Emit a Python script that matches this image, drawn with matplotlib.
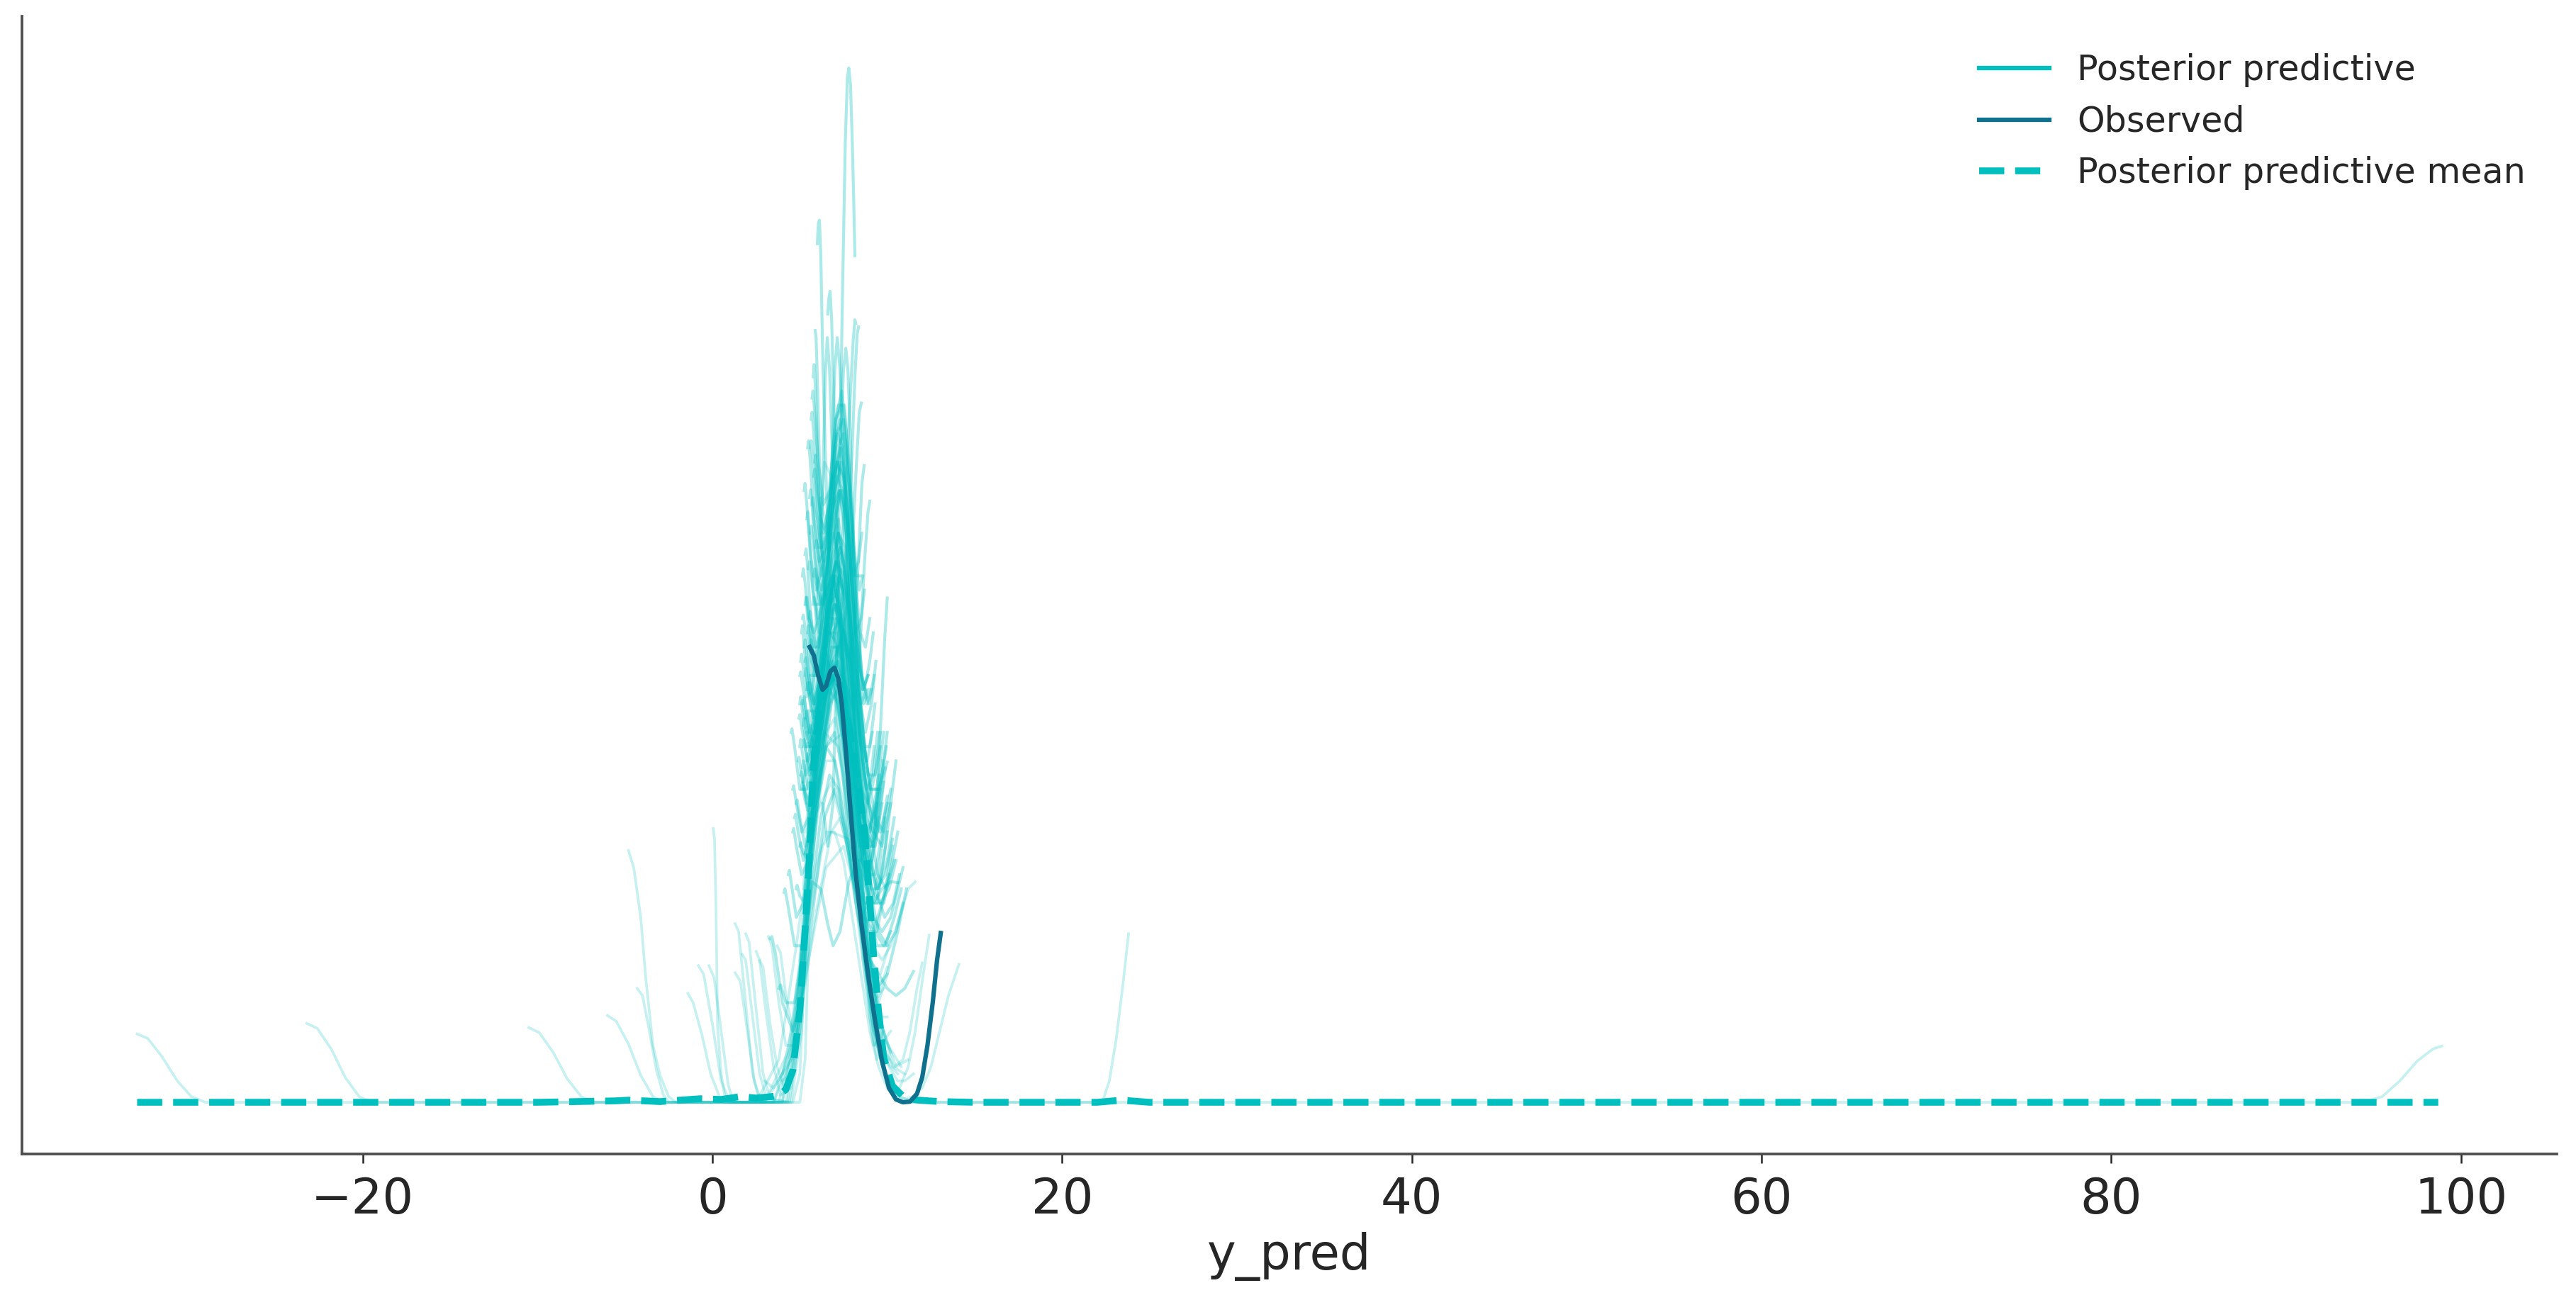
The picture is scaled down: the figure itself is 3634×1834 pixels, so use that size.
import matplotlib
import matplotlib.pyplot as plt
from matplotlib.lines import Line2D

matplotlib.use("Agg")

PP_COLOR = "#00c0bf"
OBS_COLOR = "#0f718e"

# observed density
obs_x = [5.56, 5.8, 6.05, 6.3, 6.5, 6.75, 6.98, 7.2, 7.4, 7.65, 7.9, 8.2, 8.5, 8.9,
         9.3, 9.7, 10.1, 10.5, 10.9, 11.3, 11.7, 12.0, 12.3, 12.6, 12.85, 13.06]
obs_y = [0.640, 0.628, 0.600, 0.580, 0.585, 0.606, 0.611, 0.596, 0.560, 0.490, 0.410,
         0.320, 0.255, 0.180, 0.115, 0.058, 0.020, 0.004, 0.0, 0.001, 0.012, 0.035,
         0.080, 0.140, 0.200, 0.238]

# posterior predictive mean density
mean_x = [-32.9, -20.0, -10.0, -5.6, -4.8, -3.0, -0.7, 0.5, 1.6, 2.5, 3.4, 3.8, 4.2, 4.6,
          5.0, 5.3, 5.56, 5.76, 5.9, 6.2, 6.6, 7.0, 7.4, 7.8, 8.2, 8.7, 8.96, 9.2, 9.5,
          9.8, 10.3, 11.0, 11.8, 13.0, 15.0, 22.0, 23.4, 25.0, 40.0, 60.0, 80.0, 98.7]
mean_y = [0.0, 0.0, 0.0, 0.002, 0.003, 0.001, 0.005, 0.004, 0.008, 0.006, 0.008, 0.010,
          0.018, 0.045, 0.129, 0.241, 0.352, 0.464, 0.509, 0.560, 0.590, 0.600, 0.580,
          0.530, 0.470, 0.380, 0.296, 0.213, 0.129, 0.062, 0.023, 0.006, 0.003, 0.001,
          0.0, 0.0, 0.003, 0.0, 0.0, 0.0, 0.0, 0.0]

# posterior predictive draws with far-left minimum values
pp_far_left = [
    ([-32.9, -32.3, -31.5, -30.6, -29.8, -29.0, 3.0, 4.5, 5.5, 6.5, 7.5, 8.5, 9.5, 10.5, 11.2],
     [0.096, 0.090, 0.065, 0.030, 0.008, 0.0, 0.0, 0.06, 0.20, 0.33, 0.36, 0.27, 0.12, 0.05, 0.06]),
    ([-23.2, -22.6, -21.8, -21.0, -20.2, -19.5, 3.5, 4.8, 5.8, 6.8, 7.8, 8.8, 9.8, 10.8],
     [0.111, 0.104, 0.075, 0.035, 0.008, 0.0, 0.0, 0.08, 0.25, 0.38, 0.37, 0.24, 0.09, 0.05]),
    ([-10.5, -9.9, -9.1, -8.3, -7.5, -6.8, 3.0, 4.3, 5.3, 6.3, 7.3, 8.3, 9.3, 10.3, 11.0],
     [0.105, 0.098, 0.070, 0.033, 0.008, 0.0, 0.0, 0.07, 0.22, 0.36, 0.40, 0.30, 0.15, 0.05, 0.04]),
    ([-6.0, -5.5, -4.8, -4.1, -3.4, -2.8, 2.5, 3.8, 4.8, 5.8, 6.8, 7.8, 8.8, 9.8, 10.6],
     [0.122, 0.114, 0.082, 0.038, 0.008, 0.0, 0.0, 0.06, 0.22, 0.40, 0.45, 0.35, 0.18, 0.06, 0.04]),
    ([-4.8, -4.5, -4.1, -3.8, -3.4, -3.0, -2.5, -2.1, 4.6, 5.0, 5.4, 5.8, 6.2, 6.6, 7.0, 7.4, 7.8,
      8.2, 8.6, 9.0, 9.4, 9.6],
     [0.354, 0.330, 0.260, 0.172, 0.080, 0.038, 0.008, 0.0, 0.0, 0.04, 0.25, 0.62, 0.85, 0.80,
      0.72, 0.75, 0.70, 0.50, 0.28, 0.12, 0.06, 0.07]),
    ([-4.3, -4.0, -3.6, -3.2, -2.8, -2.5, 3.5, 4.5, 5.5, 6.5, 7.5, 8.5, 9.5, 10.2],
     [0.160, 0.150, 0.100, 0.045, 0.010, 0.0, 0.0, 0.08, 0.30, 0.50, 0.52, 0.32, 0.12, 0.07]),
    ([0.05, 0.12, 0.2, 0.3, 0.5, 0.7, 0.9, 5.0, 5.3, 5.6, 6.0, 6.4, 6.8, 7.2, 7.6, 8.0, 8.4, 8.8, 9.1],
     [0.385, 0.370, 0.280, 0.105, 0.040, 0.010, 0.0, 0.0, 0.06, 0.30, 0.70, 0.90, 0.88, 0.80,
      0.74, 0.62, 0.40, 0.22, 0.18]),
    ([-1.4, -1.1, -0.6, -0.1, 0.4, 0.7, 3.8, 4.6, 5.4, 6.2, 7.0, 7.8, 8.6, 9.4, 9.9],
     [0.153, 0.140, 0.095, 0.040, 0.008, 0.0, 0.0, 0.08, 0.28, 0.50, 0.58, 0.46, 0.24, 0.08, 0.06]),
    ([-0.8, -0.5, 0.0, 0.5, 1.0, 4.0, 4.8, 5.6, 6.4, 7.2, 8.0, 8.8, 9.6, 10.1],
     [0.192, 0.180, 0.110, 0.030, 0.0, 0.0, 0.10, 0.34, 0.56, 0.62, 0.48, 0.24, 0.08, 0.06]),
    ([-0.2, 0.1, 0.5, 0.9, 1.2, 4.2, 5.0, 5.7, 6.4, 7.1, 7.8, 8.5, 9.2, 9.7],
     [0.192, 0.175, 0.100, 0.025, 0.0, 0.0, 0.12, 0.40, 0.66, 0.70, 0.52, 0.28, 0.10, 0.08]),
    ([1.3, 1.5, 1.9, 2.3, 2.7, 4.4, 5.0, 5.6, 6.2, 6.8, 7.4, 8.0, 8.6, 9.2, 9.6],
     [0.251, 0.240, 0.140, 0.040, 0.0, 0.0, 0.10, 0.36, 0.62, 0.72, 0.64, 0.42, 0.20, 0.08, 0.09]),
    ([1.3, 1.6, 2.0, 2.4, 2.8, 4.0, 4.8, 5.6, 6.4, 7.2, 8.0, 8.8, 9.6, 10.2],
     [0.182, 0.170, 0.100, 0.030, 0.0, 0.0, 0.12, 0.36, 0.52, 0.50, 0.36, 0.18, 0.08, 0.10]),
    ([1.7, 1.9, 2.3, 2.7, 3.1, 4.5, 5.1, 5.7, 6.3, 6.9, 7.5, 8.1, 8.7, 9.3, 9.8],
     [0.208, 0.200, 0.120, 0.040, 0.005, 0.0, 0.10, 0.40, 0.70, 0.82, 0.70, 0.44, 0.20, 0.08, 0.10]),
    ([1.9, 2.1, 2.5, 2.9, 3.3, 4.3, 5.0, 5.7, 6.4, 7.1, 7.8, 8.5, 9.2, 9.8],
     [0.237, 0.225, 0.130, 0.040, 0.005, 0.0, 0.14, 0.44, 0.64, 0.60, 0.44, 0.26, 0.14, 0.16]),
    ([2.5, 2.7, 3.1, 3.5, 3.9, 4.5, 5.2, 5.9, 6.6, 7.3, 8.0, 8.7, 9.4, 10.0],
     [0.212, 0.200, 0.120, 0.050, 0.010, 0.02, 0.18, 0.46, 0.62, 0.56, 0.40, 0.24, 0.12, 0.12]),
    ([2.7, 2.9, 3.3, 3.7, 4.1, 4.7, 5.3, 5.9, 6.5, 7.1, 7.7, 8.3, 8.9, 9.5, 10.0],
     [0.199, 0.190, 0.110, 0.050, 0.020, 0.04, 0.20, 0.50, 0.72, 0.76, 0.62, 0.40, 0.22, 0.14, 0.18]),
    ([3.2, 3.4, 3.8, 4.2, 4.8, 5.4, 6.0, 6.6, 7.2, 7.8, 8.4, 9.0, 9.6, 10.1],
     [0.233, 0.220, 0.140, 0.080, 0.08, 0.24, 0.48, 0.62, 0.58, 0.44, 0.30, 0.20, 0.18, 0.22]),
    ([3.7, 3.9, 4.2, 4.6, 5.1, 5.6, 6.1, 6.6, 7.1, 7.6, 8.1, 8.6, 9.1, 9.6, 10.0],
     [0.220, 0.210, 0.150, 0.100, 0.14, 0.30, 0.52, 0.66, 0.66, 0.54, 0.38, 0.24, 0.16, 0.16, 0.19]),
]

# draws concentrated in the main bundle
pp_bundle = [
    ([6.3, 6.6, 6.9, 7.1, 7.3, 7.45, 7.6, 7.72, 7.8, 7.9, 8.0, 8.08, 8.15],
     [0.42, 0.36, 0.42, 0.62, 0.93, 1.15, 1.35, 1.44, 1.454, 1.43, 1.35, 1.27, 1.19]),
    ([6.0, 6.06, 6.12, 6.2, 6.3, 6.45, 6.6, 6.8, 7.1, 7.4, 7.7, 8.0, 8.3, 8.6],
     [1.207, 1.235, 1.240, 1.19, 1.06, 0.92, 0.80, 0.70, 0.62, 0.60, 0.58, 0.50, 0.42, 0.40]),
    ([6.6, 6.66, 6.73, 6.82, 6.95, 7.1, 7.3, 7.5, 7.8, 8.1, 8.4],
     [1.108, 1.13, 1.14, 1.10, 0.98, 0.84, 0.70, 0.60, 0.48, 0.40, 0.36]),
    ([5.88, 5.93, 6.0, 6.1, 6.25, 6.45, 6.7, 7.0, 7.3, 7.6, 7.9, 8.2, 8.5],
     [1.085, 1.075, 1.02, 0.92, 0.80, 0.70, 0.66, 0.65, 0.63, 0.56, 0.45, 0.35, 0.30]),
    ([5.77, 5.82, 5.9, 6.0, 6.15, 6.4, 6.7, 7.0, 7.3, 7.6, 7.9, 8.2],
     [1.02, 1.037, 1.00, 0.92, 0.82, 0.72, 0.70, 0.71, 0.66, 0.56, 0.44, 0.36]),
    ([5.7, 5.9, 6.1, 6.3, 6.45, 6.57, 6.7, 6.85, 7.0, 7.2, 7.5, 7.8, 8.1, 8.4],
     [0.55, 0.52, 0.62, 0.85, 1.02, 1.075, 1.03, 0.92, 0.82, 0.72, 0.62, 0.52, 0.42, 0.38]),
    ([5.6, 5.9, 6.2, 6.5, 6.8, 7.0, 7.14, 7.3, 7.5, 7.8, 8.1, 8.4, 8.7],
     [0.60, 0.55, 0.56, 0.66, 0.88, 1.03, 1.075, 1.03, 0.90, 0.70, 0.52, 0.40, 0.35]),
    ([5.5, 5.8, 6.2, 6.6, 7.0, 7.3, 7.5, 7.63, 7.75, 7.9, 8.1, 8.4, 8.7, 9.0],
     [0.55, 0.50, 0.52, 0.60, 0.75, 0.92, 1.03, 1.06, 1.03, 0.93, 0.75, 0.52, 0.38, 0.34]),
    ([5.9, 6.2, 6.6, 7.0, 7.4, 7.7, 7.9, 8.05, 8.15, 8.2],
     [0.50, 0.52, 0.58, 0.66, 0.78, 0.90, 1.00, 1.07, 1.10, 1.095]),
    ([5.6, 6.0, 6.5, 7.0, 7.4, 7.8, 8.0, 8.15, 8.28, 8.36],
     [0.45, 0.44, 0.50, 0.60, 0.70, 0.82, 0.92, 1.02, 1.08, 1.09]),
    ([5.4, 5.8, 6.3, 6.8, 7.3, 7.7, 8.0, 8.2, 8.4, 8.52],
     [0.52, 0.48, 0.50, 0.58, 0.64, 0.70, 0.78, 0.88, 0.97, 0.983]),
    ([5.5, 5.9, 6.4, 6.9, 7.4, 7.8, 8.1, 8.35, 8.55, 8.68],
     [0.40, 0.42, 0.52, 0.62, 0.65, 0.62, 0.66, 0.76, 0.87, 0.895]),
    ([5.3, 5.7, 6.2, 6.7, 7.2, 7.7, 8.1, 8.4, 8.7, 8.9, 9.0],
     [0.35, 0.40, 0.52, 0.60, 0.62, 0.58, 0.55, 0.62, 0.76, 0.83, 0.845]),
    ([5.56, 5.62, 5.7, 5.85, 6.05, 6.3, 6.6, 6.9, 7.2, 7.5, 7.8, 8.1, 8.4, 8.7],
     [0.85, 0.861, 0.84, 0.78, 0.72, 0.70, 0.72, 0.74, 0.70, 0.60, 0.47, 0.36, 0.28, 0.24]),
    ([5.3, 5.36, 5.45, 5.6, 5.8, 6.1, 6.4, 6.7, 7.0, 7.3, 7.6, 7.9, 8.2, 8.5, 8.8],
     [0.77, 0.778, 0.75, 0.69, 0.64, 0.64, 0.68, 0.72, 0.73, 0.68, 0.58, 0.46, 0.36, 0.30, 0.28]),
    ([5.2, 5.6, 6.0, 6.5, 7.0, 7.5, 8.0, 8.5, 8.9, 9.3, 9.6, 9.85, 10.0],
     [0.45, 0.50, 0.58, 0.63, 0.58, 0.45, 0.32, 0.26, 0.28, 0.38, 0.52, 0.65, 0.709]),
    ([5.15, 5.2, 5.3, 5.5, 5.8, 6.1, 6.5, 6.9, 7.3, 7.7, 8.1, 8.5, 8.9, 9.1],
     [0.74, 0.75, 0.73, 0.68, 0.66, 0.68, 0.72, 0.74, 0.68, 0.56, 0.44, 0.36, 0.33, 0.34]),
    ([5.35, 5.4, 5.5, 5.7, 6.0, 6.4, 6.8, 7.2, 7.6, 8.0, 8.4, 8.8, 9.2, 9.4],
     [0.70, 0.71, 0.69, 0.64, 0.62, 0.68, 0.78, 0.82, 0.74, 0.58, 0.44, 0.38, 0.40, 0.42]),
    ([5.45, 5.5, 5.6, 5.8, 6.1, 6.5, 6.9, 7.3, 7.7, 8.1, 8.5, 8.8],
     [0.92, 0.93, 0.90, 0.82, 0.76, 0.78, 0.84, 0.86, 0.76, 0.60, 0.50, 0.48]),
    ([5.65, 5.7, 5.8, 6.0, 6.3, 6.7, 7.1, 7.5, 7.9, 8.3, 8.6, 8.9],
     [0.96, 0.97, 0.94, 0.86, 0.80, 0.84, 0.94, 0.96, 0.84, 0.66, 0.58, 0.60]),
    ([5.25, 5.3, 5.4, 5.6, 5.9, 6.3, 6.7, 7.1, 7.5, 7.9, 8.3, 8.7, 9.0, 9.25],
     [0.64, 0.65, 0.63, 0.58, 0.56, 0.62, 0.70, 0.76, 0.72, 0.60, 0.46, 0.40, 0.44, 0.50]),
    ([5.8, 5.85, 5.95, 6.1, 6.35, 6.7, 7.0, 7.3, 7.6, 7.9, 8.2, 8.5, 8.7],
     [0.88, 0.89, 0.86, 0.80, 0.76, 0.82, 0.92, 0.96, 0.90, 0.76, 0.66, 0.68, 0.72]),
    ([5.5, 5.55, 5.65, 5.85, 6.15, 6.5, 6.9, 7.3, 7.7, 8.1, 8.5, 8.9, 9.3, 9.5],
     [0.58, 0.59, 0.57, 0.54, 0.56, 0.64, 0.74, 0.78, 0.72, 0.58, 0.44, 0.36, 0.36, 0.40]),
    ([5.6, 5.65, 5.75, 5.95, 6.25, 6.6, 7.0, 7.4, 7.8, 8.2, 8.6, 8.9],
     [0.80, 0.81, 0.79, 0.74, 0.72, 0.76, 0.86, 0.90, 0.82, 0.66, 0.58, 0.60]),
    ([5.2, 5.25, 5.35, 5.55, 5.85, 6.2, 6.6, 7.0, 7.4, 7.8, 8.2, 8.6, 9.0, 9.4, 9.6],
     [0.53, 0.54, 0.52, 0.50, 0.52, 0.60, 0.68, 0.70, 0.66, 0.56, 0.44, 0.36, 0.34, 0.40, 0.44]),
    ([5.7, 5.75, 5.85, 6.05, 6.35, 6.7, 7.05, 7.4, 7.75, 8.1, 8.4, 8.6],
     [0.99, 1.00, 0.97, 0.90, 0.84, 0.86, 0.96, 1.00, 0.92, 0.78, 0.72, 0.74]),
    ([5.4, 5.45, 5.55, 5.75, 6.05, 6.45, 6.85, 7.25, 7.65, 8.05, 8.45, 8.85, 9.15],
     [0.82, 0.83, 0.80, 0.72, 0.68, 0.72, 0.82, 0.86, 0.80, 0.64, 0.52, 0.48, 0.52]),
    ([5.0, 5.05, 5.15, 5.35, 5.7, 6.1, 6.5, 6.9, 7.3, 7.7, 8.1, 8.5, 8.9, 9.3, 9.7],
     [0.50, 0.51, 0.49, 0.46, 0.48, 0.56, 0.64, 0.68, 0.64, 0.54, 0.42, 0.34, 0.32, 0.36, 0.42]),
    ([5.9, 5.95, 6.05, 6.25, 6.55, 6.85, 7.15, 7.45, 7.75, 8.05, 8.35, 8.55],
     [0.78, 0.79, 0.77, 0.74, 0.78, 0.88, 0.94, 0.92, 0.82, 0.74, 0.76, 0.80]),
    ([5.3, 5.35, 5.45, 5.65, 6.0, 6.4, 6.8, 7.2, 7.6, 8.0, 8.4, 8.8, 9.2, 9.45],
     [0.60, 0.61, 0.59, 0.55, 0.55, 0.62, 0.72, 0.80, 0.78, 0.66, 0.52, 0.44, 0.46, 0.52]),
    ([5.55, 5.6, 5.7, 5.9, 6.2, 6.55, 6.9, 7.25, 7.6, 7.95, 8.3, 8.65, 8.95],
     [0.68, 0.69, 0.67, 0.64, 0.66, 0.74, 0.84, 0.90, 0.86, 0.74, 0.62, 0.56, 0.58]),
    ([5.1, 5.15, 5.25, 5.45, 5.8, 6.2, 6.6, 7.0, 7.4, 7.8, 8.2, 8.6, 9.0, 9.4, 9.8, 10.0],
     [0.44, 0.45, 0.43, 0.41, 0.44, 0.52, 0.60, 0.64, 0.62, 0.54, 0.44, 0.34, 0.28, 0.28, 0.34, 0.38]),
    ([5.75, 5.8, 5.9, 6.1, 6.4, 6.75, 7.1, 7.45, 7.8, 8.15, 8.5, 8.8],
     [0.70, 0.71, 0.69, 0.66, 0.70, 0.80, 0.88, 0.86, 0.76, 0.62, 0.56, 0.58]),
    ([5.4, 5.45, 5.55, 5.75, 6.05, 6.45, 6.85, 7.25, 7.65, 8.05, 8.45, 8.85, 9.25, 9.55],
     [0.48, 0.49, 0.47, 0.46, 0.50, 0.60, 0.70, 0.74, 0.70, 0.58, 0.44, 0.36, 0.38, 0.46]),
    ([5.85, 5.9, 6.0, 6.2, 6.5, 6.85, 7.2, 7.55, 7.9, 8.2, 8.45],
     [0.90, 0.91, 0.88, 0.82, 0.80, 0.88, 0.98, 0.98, 0.86, 0.74, 0.74]),
    ([5.2, 5.25, 5.35, 5.55, 5.9, 6.3, 6.7, 7.1, 7.5, 7.9, 8.3, 8.7, 9.1, 9.5, 9.85],
     [0.56, 0.57, 0.55, 0.52, 0.54, 0.62, 0.70, 0.72, 0.66, 0.54, 0.42, 0.32, 0.28, 0.32, 0.40]),
    ([5.05, 5.1, 5.2, 5.4, 5.7, 6.1, 6.5, 6.9, 7.3, 7.7, 8.1, 8.5, 8.9, 9.3, 9.6],
     [0.62, 0.63, 0.61, 0.57, 0.58, 0.66, 0.76, 0.80, 0.76, 0.64, 0.52, 0.44, 0.42, 0.46, 0.50]),
    ([5.25, 5.3, 5.4, 5.6, 5.95, 6.35, 6.75, 7.15, 7.55, 7.95, 8.35, 8.75, 9.1, 9.35],
     [0.86, 0.87, 0.84, 0.77, 0.72, 0.76, 0.86, 0.90, 0.84, 0.70, 0.58, 0.52, 0.56, 0.62]),
    ([5.6, 5.65, 5.75, 5.95, 6.3, 6.7, 7.1, 7.5, 7.9, 8.3, 8.7, 9.0, 9.3],
     [0.64, 0.65, 0.63, 0.62, 0.68, 0.80, 0.90, 0.88, 0.76, 0.60, 0.50, 0.50, 0.56]),
    ([5.35, 5.4, 5.5, 5.7, 6.0, 6.4, 6.8, 7.2, 7.6, 8.0, 8.4, 8.8, 9.2, 9.5, 9.75],
     [0.54, 0.55, 0.53, 0.50, 0.52, 0.62, 0.74, 0.80, 0.76, 0.64, 0.50, 0.40, 0.38, 0.42, 0.48]),
    ([5.15, 5.2, 5.3, 5.5, 5.85, 6.25, 6.65, 7.05, 7.45, 7.85, 8.25, 8.65, 9.05, 9.45, 9.8],
     [0.47, 0.48, 0.46, 0.44, 0.48, 0.58, 0.68, 0.74, 0.72, 0.62, 0.50, 0.40, 0.36, 0.38, 0.45]),
    ([5.5, 5.55, 5.65, 5.85, 6.15, 6.55, 6.95, 7.35, 7.75, 8.15, 8.55, 8.95, 9.25],
     [0.75, 0.76, 0.74, 0.70, 0.70, 0.78, 0.88, 0.92, 0.86, 0.72, 0.60, 0.56, 0.60]),
    ([5.7, 5.75, 5.85, 6.05, 6.35, 6.7, 7.05, 7.4, 7.75, 8.1, 8.45, 8.75, 9.0],
     [0.84, 0.85, 0.83, 0.78, 0.78, 0.86, 0.96, 0.98, 0.90, 0.76, 0.66, 0.64, 0.68]),
    ([5.0, 5.05, 5.15, 5.35, 5.7, 6.1, 6.5, 6.9, 7.3, 7.7, 8.1, 8.5, 8.9, 9.3, 9.7, 10.0],
     [0.56, 0.57, 0.55, 0.50, 0.50, 0.58, 0.68, 0.72, 0.70, 0.60, 0.48, 0.38, 0.32, 0.32, 0.38, 0.43]),
    ([5.45, 5.5, 5.6, 5.8, 6.1, 6.5, 6.9, 7.3, 7.7, 8.1, 8.5, 8.9, 9.3, 9.6],
     [0.66, 0.67, 0.65, 0.60, 0.60, 0.68, 0.80, 0.86, 0.82, 0.68, 0.54, 0.46, 0.46, 0.52]),
    ([5.3, 5.35, 5.45, 5.65, 6.0, 6.4, 6.8, 7.2, 7.6, 8.0, 8.4, 8.8, 9.2, 9.6, 9.9],
     [0.70, 0.71, 0.68, 0.62, 0.60, 0.66, 0.76, 0.80, 0.74, 0.60, 0.46, 0.38, 0.36, 0.42, 0.47]),
    ([5.6, 5.65, 5.75, 5.95, 6.25, 6.6, 6.95, 7.3, 7.65, 8.0, 8.35, 8.7, 9.0, 9.2],
     [0.92, 0.93, 0.90, 0.83, 0.78, 0.80, 0.88, 0.92, 0.86, 0.72, 0.62, 0.58, 0.62, 0.66]),
    ([5.1, 5.15, 5.25, 5.45, 5.8, 6.2, 6.6, 7.0, 7.4, 7.8, 8.2, 8.6, 9.0, 9.4, 9.8],
     [0.66, 0.67, 0.64, 0.58, 0.56, 0.62, 0.70, 0.74, 0.70, 0.60, 0.48, 0.40, 0.38, 0.44, 0.52]),
    ([5.8, 5.85, 5.95, 6.15, 6.45, 6.8, 7.15, 7.5, 7.85, 8.2, 8.55, 8.85, 9.1],
     [0.74, 0.75, 0.73, 0.70, 0.72, 0.82, 0.92, 0.94, 0.86, 0.72, 0.60, 0.56, 0.58]),
    ([5.4, 5.45, 5.55, 5.75, 6.1, 6.5, 6.9, 7.3, 7.7, 8.1, 8.5, 8.9, 9.3, 9.7, 10.0],
     [0.58, 0.59, 0.57, 0.54, 0.56, 0.64, 0.74, 0.78, 0.74, 0.62, 0.50, 0.42, 0.40, 0.46, 0.52]),
    ([5.55, 5.6, 5.7, 5.9, 6.2, 6.6, 7.0, 7.4, 7.8, 8.2, 8.6, 9.0, 9.4],
     [0.52, 0.53, 0.52, 0.52, 0.58, 0.70, 0.82, 0.86, 0.80, 0.66, 0.52, 0.44, 0.44]),
    ([5.2, 5.25, 5.35, 5.55, 5.9, 6.3, 6.7, 7.1, 7.5, 7.9, 8.3, 8.7, 9.1, 9.5, 9.9, 10.2],
     [0.50, 0.51, 0.49, 0.46, 0.48, 0.56, 0.66, 0.70, 0.68, 0.58, 0.46, 0.36, 0.30, 0.30, 0.36, 0.42]),
]

# wider, lower draws
pp_wide = [
    ([4.34, 4.4, 4.5, 4.8, 5.2, 5.6, 6.0, 6.5, 7.0, 7.5, 8.0, 8.5, 9.0, 9.5, 10.0],
     [0.32, 0.326, 0.31, 0.26, 0.28, 0.36, 0.44, 0.50, 0.48, 0.40, 0.34, 0.34, 0.38, 0.44, 0.478]),
    ([4.1, 4.15, 4.3, 4.7, 5.2, 5.7, 6.2, 6.7, 7.2, 7.7, 8.2, 8.7, 9.2, 9.7, 10.2, 10.6],
     [0.295, 0.30, 0.28, 0.22, 0.22, 0.30, 0.40, 0.46, 0.44, 0.36, 0.30, 0.28, 0.28, 0.30, 0.31, 0.309]),
    ([3.3, 3.4, 3.6, 4.0, 4.6, 5.2, 5.8, 6.4, 7.0, 7.6, 8.2, 8.8, 9.4, 10.0, 10.6, 11.1],
     [0.23, 0.233, 0.21, 0.14, 0.10, 0.16, 0.28, 0.40, 0.44, 0.38, 0.28, 0.20, 0.16, 0.18, 0.24, 0.30]),
    ([4.6, 4.65, 4.8, 5.1, 5.5, 6.0, 6.5, 7.0, 7.5, 8.0, 8.5, 9.0, 9.5, 10.0, 10.5, 11.0, 11.5],
     [0.38, 0.385, 0.36, 0.32, 0.34, 0.42, 0.50, 0.52, 0.46, 0.36, 0.26, 0.20, 0.18, 0.16, 0.15, 0.16, 0.184]),
    ([4.8, 4.85, 5.0, 5.3, 5.7, 6.2, 6.7, 7.2, 7.7, 8.2, 8.7, 9.2, 9.7, 10.1],
     [0.42, 0.425, 0.40, 0.36, 0.40, 0.50, 0.58, 0.56, 0.46, 0.34, 0.26, 0.24, 0.28, 0.32]),
    ([4.5, 4.55, 4.7, 5.0, 5.4, 5.9, 6.4, 6.9, 7.4, 7.9, 8.4, 8.9, 9.4, 9.9, 10.3],
     [0.52, 0.525, 0.50, 0.44, 0.44, 0.52, 0.60, 0.60, 0.52, 0.40, 0.30, 0.24, 0.24, 0.30, 0.36]),
    ([3.8, 3.9, 4.2, 4.7, 5.2, 5.7, 6.2, 6.6, 6.9, 7.3, 7.8, 8.3, 8.8, 9.3, 9.8, 10.2],
     [0.16, 0.165, 0.14, 0.14, 0.22, 0.31, 0.30, 0.25, 0.22, 0.24, 0.31, 0.34, 0.30, 0.24, 0.22, 0.24]),
    ([5.0, 5.05, 5.2, 5.5, 5.9, 6.4, 6.9, 7.4, 7.9, 8.4, 8.9, 9.4, 9.9, 10.4, 10.8],
     [0.60, 0.605, 0.58, 0.52, 0.50, 0.56, 0.62, 0.60, 0.50, 0.38, 0.28, 0.22, 0.22, 0.26, 0.30]),
    ([4.9, 4.95, 5.1, 5.4, 5.8, 6.3, 6.8, 7.3, 7.8, 8.3, 8.8, 9.3, 9.8, 10.3, 10.6],
     [0.48, 0.485, 0.46, 0.42, 0.46, 0.56, 0.64, 0.64, 0.56, 0.44, 0.34, 0.28, 0.28, 0.34, 0.38]),
    ([5.1, 5.15, 5.3, 5.6, 6.0, 6.5, 7.0, 7.5, 8.0, 8.5, 9.0, 9.5, 10.0, 10.4],
     [0.56, 0.565, 0.54, 0.50, 0.54, 0.64, 0.70, 0.66, 0.56, 0.44, 0.34, 0.30, 0.34, 0.40]),
    ([4.7, 4.75, 4.9, 5.2, 5.6, 6.1, 6.6, 7.1, 7.6, 8.1, 8.6, 9.1, 9.6, 10.1, 10.5],
     [0.40, 0.405, 0.38, 0.34, 0.38, 0.50, 0.60, 0.62, 0.56, 0.46, 0.36, 0.30, 0.28, 0.30, 0.34]),
    ([5.3, 5.35, 5.5, 5.8, 6.2, 6.7, 7.2, 7.7, 8.2, 8.7, 9.2, 9.7, 10.2, 10.5],
     [0.62, 0.625, 0.60, 0.56, 0.60, 0.70, 0.76, 0.70, 0.58, 0.46, 0.38, 0.36, 0.42, 0.48]),
    ([5.0, 5.05, 5.2, 5.5, 5.9, 6.4, 6.9, 7.4, 7.9, 8.4, 8.9, 9.4, 9.9, 10.3],
     [0.36, 0.365, 0.35, 0.34, 0.40, 0.52, 0.60, 0.60, 0.52, 0.42, 0.34, 0.30, 0.32, 0.37]),
    ([4.95, 5.0, 5.15, 5.45, 5.85, 6.35, 6.85, 7.35, 7.85, 8.35, 8.85, 9.35, 9.85, 10.35, 10.7],
     [0.54, 0.545, 0.52, 0.48, 0.50, 0.58, 0.66, 0.68, 0.62, 0.50, 0.38, 0.30, 0.26, 0.28, 0.32]),
    ([5.2, 5.25, 5.4, 5.7, 6.1, 6.6, 7.1, 7.6, 8.1, 8.6, 9.1, 9.6, 10.0],
     [0.44, 0.445, 0.43, 0.42, 0.48, 0.60, 0.68, 0.66, 0.58, 0.48, 0.40, 0.38, 0.42]),
    ([4.8, 4.85, 5.0, 5.3, 5.7, 6.2, 6.7, 7.2, 7.7, 8.2, 8.7, 9.2, 9.7, 10.2, 10.6, 10.9],
     [0.30, 0.305, 0.29, 0.28, 0.34, 0.46, 0.56, 0.58, 0.52, 0.42, 0.32, 0.26, 0.24, 0.26, 0.30, 0.33]),
    ([5.15, 5.2, 5.35, 5.65, 6.05, 6.55, 7.05, 7.55, 8.05, 8.55, 9.05, 9.55, 9.95],
     [0.68, 0.685, 0.66, 0.60, 0.60, 0.68, 0.76, 0.74, 0.64, 0.52, 0.44, 0.44, 0.50]),
    ([5.05, 5.1, 5.25, 5.55, 5.95, 6.45, 6.95, 7.45, 7.95, 8.45, 8.95, 9.45, 9.95, 10.4],
     [0.46, 0.465, 0.44, 0.40, 0.42, 0.52, 0.62, 0.66, 0.62, 0.52, 0.40, 0.32, 0.30, 0.34]),
    ([5.4, 5.45, 5.6, 5.9, 6.3, 6.8, 7.3, 7.8, 8.3, 8.8, 9.3, 9.8, 10.2],
     [0.50, 0.505, 0.49, 0.48, 0.56, 0.68, 0.74, 0.70, 0.60, 0.48, 0.40, 0.38, 0.44]),
    ([4.6, 4.65, 4.8, 5.1, 5.5, 6.0, 6.5, 7.0, 7.5, 8.0, 8.5, 9.0, 9.5, 10.0, 10.5, 10.9],
     [0.44, 0.445, 0.42, 0.38, 0.40, 0.48, 0.56, 0.60, 0.56, 0.48, 0.38, 0.30, 0.24, 0.22, 0.24, 0.28]),
]

# draws with maxima to the right of the bundle
pp_right = [
    ([4.0, 4.5, 5.0, 5.5, 6.0, 6.5, 7.0, 7.5, 8.0, 8.5, 9.0, 9.5, 10.0, 10.5, 11.0, 11.5, 12.0,
      12.5, 13.0, 13.5, 14.1],
     [0.03, 0.04, 0.10, 0.26, 0.42, 0.52, 0.54, 0.48, 0.38, 0.26, 0.15, 0.07, 0.03, 0.01, 0.005,
      0.008, 0.02, 0.05, 0.10, 0.15, 0.194]),
    ([4.8, 5.2, 5.7, 6.2, 6.7, 7.2, 7.7, 8.2, 8.7, 9.2, 9.7, 10.2, 10.7, 11.2, 11.6, 12.0, 12.4],
     [0.10, 0.24, 0.42, 0.56, 0.62, 0.58, 0.46, 0.32, 0.20, 0.11, 0.05, 0.02, 0.02, 0.05, 0.10,
      0.17, 0.235]),
    ([5.0, 5.4, 5.9, 6.4, 6.9, 7.4, 7.9, 8.4, 8.9, 9.4, 9.9, 10.4, 10.9, 11.3, 11.7, 12.0],
     [0.20, 0.34, 0.50, 0.62, 0.66, 0.60, 0.48, 0.34, 0.22, 0.13, 0.07, 0.05, 0.06, 0.10, 0.16,
      0.196]),
    ([3.0, 3.5, 4.0, 4.5, 5.0, 5.5, 6.0, 6.5, 7.0, 7.5, 8.0, 8.5, 9.0, 9.5, 10.0, 10.5, 11.5,
      22.3, 22.7, 23.1, 23.5, 23.8],
     [0.03, 0.02, 0.04, 0.10, 0.20, 0.32, 0.42, 0.48, 0.48, 0.42, 0.32, 0.22, 0.13, 0.07, 0.03,
      0.01, 0.0, 0.0, 0.03, 0.09, 0.17, 0.237]),
    ([4.0, 4.5, 5.0, 5.5, 6.0, 6.5, 7.0, 7.5, 8.0, 8.5, 9.0, 9.5, 10.0, 10.5, 11.0, 94.4, 95.5,
      96.5, 97.5, 98.4, 98.9],
     [0.04, 0.08, 0.16, 0.26, 0.34, 0.38, 0.38, 0.34, 0.26, 0.18, 0.10, 0.05, 0.02, 0.005, 0.0,
      0.0, 0.008, 0.03, 0.058, 0.075, 0.079]),
    ([5.3, 5.7, 6.2, 6.7, 7.2, 7.7, 8.2, 8.7, 9.2, 9.7, 10.2, 10.7, 11.2, 11.6],
     [0.38, 0.46, 0.56, 0.60, 0.56, 0.46, 0.36, 0.28, 0.22, 0.20, 0.22, 0.26, 0.30, 0.31]),
    ([5.2, 5.6, 6.1, 6.6, 7.1, 7.6, 8.1, 8.6, 9.1, 9.6, 10.1, 10.6, 11.0, 11.5],
     [0.30, 0.44, 0.58, 0.68, 0.68, 0.58, 0.44, 0.30, 0.18, 0.10, 0.05, 0.03, 0.03, 0.04]),
]

LEGEND_LABELS = ["Posterior predictive", "Observed", "Posterior predictive mean"]

fig = plt.figure(figsize=(3634 / 300, 1834 / 300), dpi=300)
ax = fig.add_axes([0.0085, 0.1123, 0.9841, 0.8752])

for xs, ys in pp_far_left + pp_right:
    ax.plot(xs, ys, color=PP_COLOR, alpha=0.22, linewidth=0.9, zorder=1)
for xs, ys in pp_bundle + pp_wide:
    ax.plot(xs, ys, color=PP_COLOR, alpha=0.33, linewidth=1.0, zorder=1)

ax.plot(mean_x, mean_y, color=PP_COLOR, linestyle="--", linewidth=2.3, zorder=2)
ax.plot(obs_x, obs_y, color=OBS_COLOR, linewidth=1.5, zorder=3)

ax.set_yticks([])
ax.set_xticks([-20, 0, 20, 40, 60, 80, 100])
ax.tick_params(axis="x", labelsize=16.5, length=3.2, width=0.6, color="#262626",
               labelcolor="#262626", pad=4.2)
ax.set_xlabel("y_pred", fontsize=16.5, color="#262626", labelpad=3)
for side in ("top", "right"):
    ax.spines[side].set_visible(False)
for side in ("left", "bottom"):
    ax.spines[side].set_color("#4d4d4d")
    ax.spines[side].set_linewidth(0.9)

handles = [
    Line2D([], [], color=PP_COLOR, linewidth=1.5),
    Line2D([], [], color=OBS_COLOR, linewidth=1.5),
    Line2D([], [], color=PP_COLOR, linewidth=2.3, linestyle="--"),
]
ax.legend(handles, LEGEND_LABELS, loc="upper right", bbox_to_anchor=(1.0, 0.995),
          frameon=False, fontsize=11.8, labelcolor="#262626")

fig.savefig("out.png", dpi=300)
plt.close(fig)
